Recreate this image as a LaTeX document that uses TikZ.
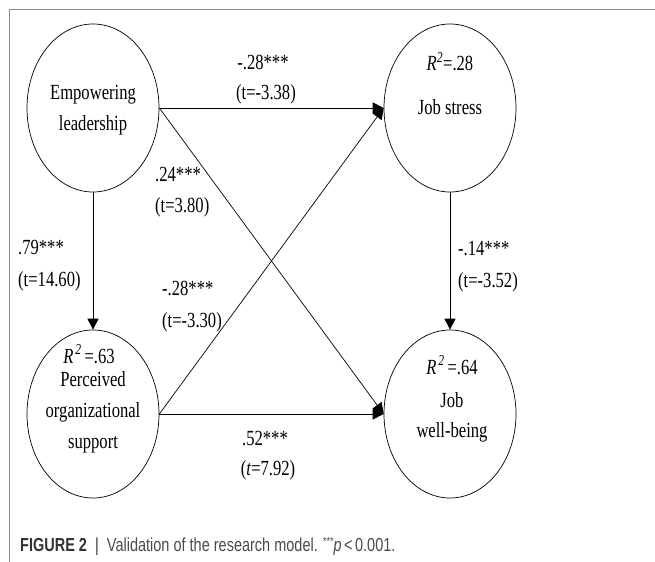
\documentclass[tikz,border=0pt]{standalone}
\usepackage{fontspec}
\setmainfont{Liberation Serif}
\newfontfamily\capfont{Liberation Sans}
\usetikzlibrary{shapes.geometric,arrows.meta}
\definecolor{framegray}{HTML}{8A8A8A}
\definecolor{capdark}{HTML}{333333}
\definecolor{captext}{HTML}{4A4A4A}
\begin{document}
\begin{tikzpicture}[x=1bp,y=-1bp,
  lat/.style={draw, ellipse, minimum width=132bp, minimum height=168bp, inner sep=0pt, line width=0.7bp},
  lbl/.style={anchor=base, inner sep=0pt, font=\fontsize{16.6bp}{18bp}\selectfont, transform shape, yscale=1.3},
  lblw/.style={lbl, anchor=base west},
  pathar/.style={-{Triangle[length=11bp,width=11bp]}, line width=0.7bp},
]
\useasboundingbox (0,0) rectangle (655,562);
\draw[framegray, line width=1bp] (9,562) -- (9,9.5) -- (655,9.5);

% latent variables
\node[lat] (EL)  at (93,108) {};
\node[lat] (JS)  at (450,108) {};
\node[lat] (POS) at (93,414) {};
\node[lat] (JWB) at (450,414) {};

% texts inside
\node[lbl] (el1) at (93,100) {Empowering};
\node[lbl] (el2) at (93,131) {leadership};
\node[lbl] (js1) at (450,71) {\textit{R}\textsuperscript{\textit{2}}=.28};
\node[lbl] (js2) at (450,115) {Job stress};
\node[lbl] (pos0) at (89,363) {\textit{R}\textsuperscript{\,\textit{2}}\,=.63};
\node[lbl] (pos1) at (93,386) {Perceived};
\node[lbl] (pos2) at (93,417) {organizational};
\node[lbl] (pos3) at (93,448) {support};
\node[lbl] (jwb0) at (452,374) {\textit{R}\textsuperscript{\,\textit{2}}\,=.64};
\node[lbl] (jwb1) at (452,407) {Job};
\node[lbl] (jwb2) at (452,437) {well-being};

% paths
\draw[pathar] (EL.east) -- (JS.west);
\draw[pathar] (EL.east) -- (JWB.west);
\draw[pathar] (POS.east) -- (JS.west);
\draw[pathar] (POS.east) -- (JWB.west);
\draw[pathar] (EL.south) -- (POS.north);
\draw[pathar] (JS.south) -- (JWB.north);

% path labels
\node[lbl] (a1) at (263,70) {-.28***};
\node[lbl] (a2) at (266,100) {(t=-3.38)};
\node[lblw] (b1) at (155,182) {.24***};
\node[lblw] (b2) at (155,213) {(t=3.80)};
\node[lblw] (c1) at (18,255) {.79***};
\node[lblw] (c2) at (18,286) {(t=14.60)};
\node[lblw] (d1) at (162,295) {-.28***};
\node[lblw] (d2) at (162,327) {(t=-3.30)};
\node[lblw] (e1) at (458,256) {-.14***};
\node[lblw] (e2) at (458,287) {(t=-3.52)};
\node[lbl] (f1) at (265,445) {.52***};
\node[lbl] (f2) at (268,475) {(\textit{t}=7.92)};

% caption
\node[anchor=base west, inner sep=0pt, font=\capfont\fontsize{14.5bp}{16bp}\selectfont, transform shape, yscale=1.3, text=captext] (cap) at (20,551)
  {\textcolor{capdark}{\textbf{FIGURE 2}}\ \ \textcolor{capdark}{|}\ \ Validation of the research model. {\fontsize{9bp}{9bp}\selectfont\raisebox{4bp}{***}}\textit{p}\,<\,0.001.};
\end{tikzpicture}
\end{document}
